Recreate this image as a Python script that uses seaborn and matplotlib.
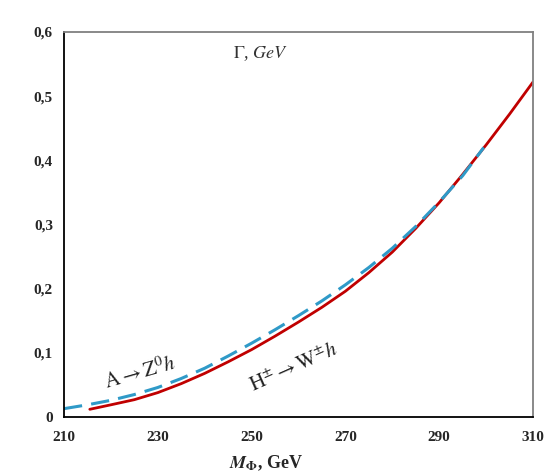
import matplotlib
matplotlib.use("Agg")
import matplotlib.pyplot as plt
import seaborn as sns
import pandas as pd
from matplotlib.ticker import FuncFormatter

# Data
mass_H = [215.5, 220, 225, 230, 235, 240, 245, 250, 255, 260, 265, 270, 275, 280, 285, 290, 295, 300, 305, 310]
width_H = [0.012, 0.019, 0.027, 0.038, 0.052, 0.068, 0.086, 0.105, 0.126, 0.148, 0.171, 0.196,
           0.225, 0.257, 0.294, 0.334, 0.378, 0.424, 0.472, 0.522]
mass_A = [210, 215, 220, 225, 230, 235, 240, 245, 250, 255, 260, 265, 270, 275, 280, 285, 290, 295, 299.5]
width_A = [0.013, 0.019, 0.026, 0.035, 0.046, 0.060, 0.076, 0.095, 0.115, 0.136, 0.158, 0.181,
           0.206, 0.233, 0.263, 0.297, 0.335, 0.376, 0.420]
x_ticks = [210, 230, 250, 270, 290, 310]
y_ticks = [0, 0.1, 0.2, 0.3, 0.4, 0.5, 0.6]

sns.set_theme(style="white")
plt.rcParams['font.family'] = ['Liberation Serif', 'DejaVu Serif']
plt.rcParams['mathtext.fontset'] = 'stix'

fig = plt.figure(figsize=(5.53, 4.74), dpi=100)
ax = fig.add_axes([64/553, 1-417/474, (533-64)/553, (417-32)/474])

dfH = pd.DataFrame({"M": mass_H, "G": width_H})
dfA = pd.DataFrame({"M": mass_A, "G": width_A})
sns.lineplot(data=dfH, x="M", y="G", ax=ax, color="#c00000", lw=2.0)
sns.lineplot(data=dfA, x="M", y="G", ax=ax, color="#2f9ac8", lw=2.2, dashes=False)
ax.lines[-1].set_dashes((6, 3))

ax.set_xlim(210, 310)
ax.set_ylim(0, 0.6)
ax.set_xticks(x_ticks)
ax.set_yticks(y_ticks)
ax.yaxis.set_major_formatter(FuncFormatter(lambda v, p: "0" if v == 0 else f"{v:.1f}".replace(".", ",")))
ax.tick_params(axis='both', direction='out', length=4, width=1, color='black', labelsize=11)
for lab in ax.get_xticklabels() + ax.get_yticklabels():
    lab.set_fontweight('bold')
ax.tick_params(axis='x', pad=6)
ax.tick_params(axis='y', pad=4)

for s in ['left', 'bottom']:
    ax.spines[s].set_color('black')
    ax.spines[s].set_linewidth(1.3)
for s in ['top', 'right']:
    ax.spines[s].set_color('#808080')
    ax.spines[s].set_linewidth(1.3)

ax.set_xlabel(r"$\boldsymbol{M}_{\mathbf{\Phi}}$, GeV", fontsize=13, fontweight='bold', labelpad=3)
ax.xaxis.set_label_coords(0.43, -0.095)
ax.set_ylabel("")

ax.text(0.36, 0.945, r"$\Gamma$, $GeV$", transform=ax.transAxes, fontsize=13,
        ha='left', va='center', style='italic', color='#333333')
ax.text(218, 0.068, r"$\mathrm{A} \rightarrow \mathrm{Z}^{0}h$", fontsize=15, rotation=16,
        ha='left', va='center', color='#222222')
ax.text(249, 0.075, r"$\mathrm{H}^{\pm} \rightarrow \mathrm{W}^{\pm}h$", fontsize=15, rotation=24,
        ha='left', va='center', color='#222222')

fig.savefig("out.png", dpi=100)
